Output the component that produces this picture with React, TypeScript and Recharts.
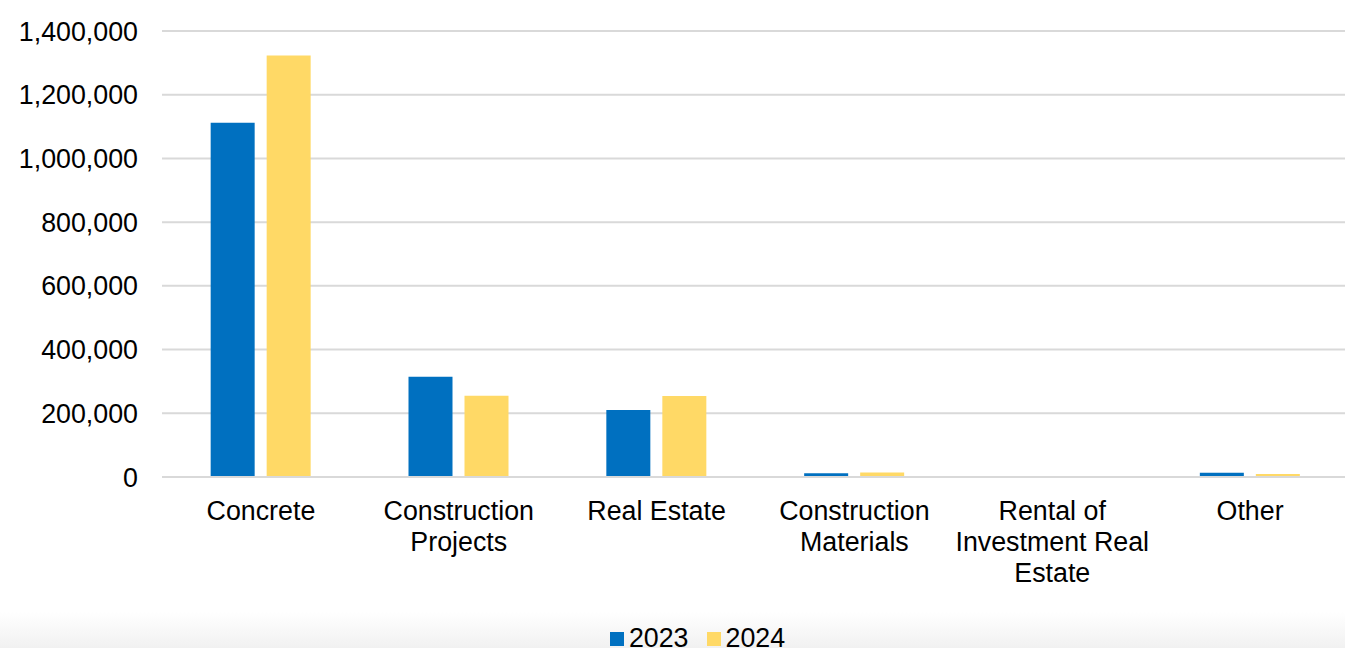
import React from 'react';
import { Bar, BarChart, XAxis, YAxis, CartesianGrid, Legend } from 'recharts';

// revenue by segment (line breaks as in the category labels)
const categories = [
  'Concrete',
  'Construction\nProjects',
  'Real Estate',
  'Construction\nMaterials',
  'Rental of\nInvestment Real\nEstate',
  'Other',
];
const values2023 = [1112000, 315000, 210000, 11500, 1500, 13500];
const values2024 = [1323000, 255000, 254000, 14500, 800, 9500];
const yTicks = [0, 200000, 400000, 600000, 800000, 1000000, 1200000, 1400000];

const seriesNames = ['2023', '2024'];
const colors = ['#0070C0', '#FFD966'];

const data = categories.map((name, i) => ({
  name,
  v2023: values2023[i],
  v2024: values2024[i],
}));

const FONT = '"Liberation Sans", Arial, sans-serif';
const FS = 26.8;

function CategoryTick(props: any) {
  const { x, y, payload } = props;
  const lines = String(payload.value).split('\n');
  return (
    <text x={x} y={y + 22} textAnchor="middle" fontSize={FS} fontFamily={FONT} fill="#000000">
      {lines.map((l, i) => (
        <tspan key={i} x={x} dy={i === 0 ? '0.71em' : 31}>
          {l}
        </tspan>
      ))}
    </text>
  );
}

function LegendContent() {
  return (
    <div style={{ display: 'flex', justifyContent: 'center', alignItems: 'center', fontFamily: FONT, fontSize: FS, color: '#000', paddingLeft: 50 }}>
      {seriesNames.map((s, i) => (
        <div key={s} style={{ display: 'flex', alignItems: 'center', marginLeft: i === 0 ? 0 : 18 }}>
          <span style={{ width: 14, height: 14, background: colors[i], display: 'inline-block', marginRight: 5 }} />
          <span>{s}</span>
        </div>
      ))}
    </div>
  );
}

export default function App() {
  return (
    <div style={{ position: 'absolute', left: 0, top: 0, width: 1345, height: 648, background: '#ffffff', overflow: 'hidden' }}>
      <div
        style={{
          position: 'absolute',
          left: 0,
          top: 612,
          width: 1345,
          height: 36,
          background: 'linear-gradient(to bottom, #ffffff, #f1f1f1)',
        }}
      />
      <BarChart
        width={1345}
        height={648}
        data={data}
        margin={{ top: 31, right: -4, left: 0, bottom: 0 }}
        barCategoryGap="24.6%"
        barGap={12}
        style={{ overflow: 'hidden' }}
      >
        <CartesianGrid vertical={false} stroke="#d9d9d9" strokeWidth={2} />
        <XAxis
          dataKey="name"
          height={141}
          tickLine={false}
          tickSize={0}
          axisLine={{ stroke: '#d9d9d9', strokeWidth: 2 }}
          tick={<CategoryTick />}
          interval={0}
        />
        <YAxis
          width={162}
          domain={[0, 1400000]}
          ticks={yTicks}
          axisLine={false}
          tickLine={false}
          tickSize={0}
          tickMargin={24}
          tickFormatter={(v) => v.toLocaleString('en-US')}
          tick={{ fontSize: FS, fontFamily: FONT, fill: '#000000' }}
        />
        <Legend
          content={<LegendContent />}
          wrapperStyle={{ position: 'absolute', top: 623, left: 0, width: 1345, height: 30 }}
        />
        <Bar dataKey="v2023" name="2023" fill={colors[0]} isAnimationActive={false} />
        <Bar dataKey="v2024" name="2024" fill={colors[1]} isAnimationActive={false} />
      </BarChart>
    </div>
  );
}
